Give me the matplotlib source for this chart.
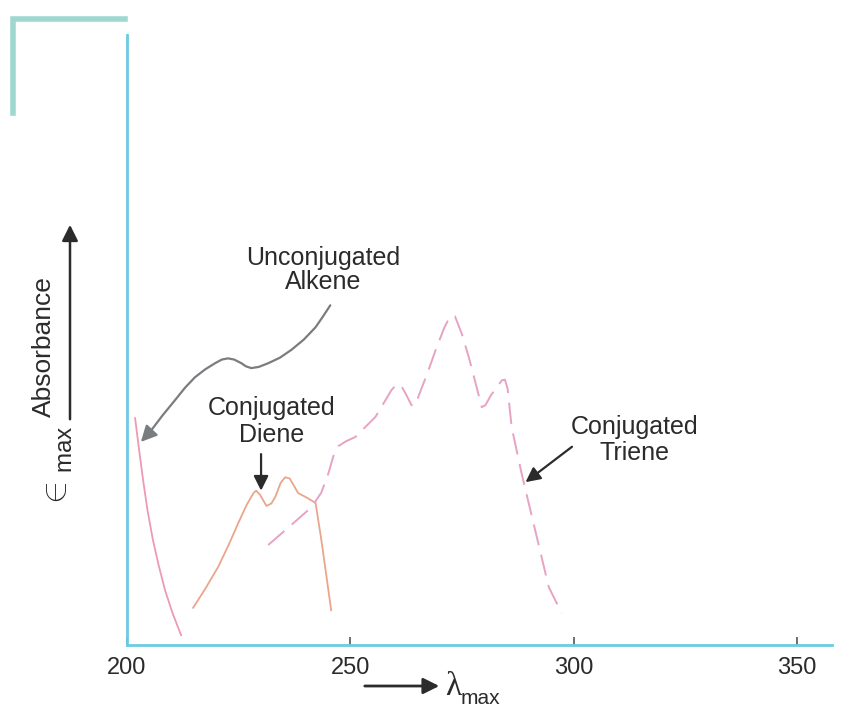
"""
UV absorption of alkene, conjugated diene and conjugated triene (schematic)
"""
import matplotlib
matplotlib.use('Agg')
import matplotlib.pyplot as plt
from matplotlib.lines import Line2D
from matplotlib.patches import FancyArrowPatch

plt.rcParams['font.family'] = ['Liberation Sans', 'DejaVu Sans']
plt.rcParams['mathtext.fontset'] = 'custom'
plt.rcParams['mathtext.rm'] = 'Liberation Sans'

# wavelength (nm) / absorbance (arb. units 0-100)
alkene_x = [201.8, 202.7, 203.6, 204.6, 205.8, 207.1, 208.5, 210.2, 212.1]
alkene_y = [37.2, 32.0, 27.0, 22.0, 17.2, 13.0, 9.0, 5.2, 1.6]

diene_x = [214.8, 217.5, 220.4, 222.8, 224.9, 226.8, 228.3, 228.9, 229.8, 231.2,
           232.3, 233.2, 234.4, 235.4, 236.4, 237.3, 238.3, 239.9, 242.2, 243.5, 245.7]
diene_y = [6.1, 9.2, 12.8, 16.5, 20.0, 23.0, 24.9, 25.3, 24.6, 22.8,
           23.2, 24.3, 26.6, 27.5, 27.3, 26.2, 24.9, 24.3, 23.3, 17.2, 5.7]

triene_x = [231.6, 236.5, 241.3, 243.5, 245.1, 246.2, 247.3, 249.0, 251.1, 255.6,
            259.2, 260.3, 261.3, 262.3, 263.7, 264.6, 265.2, 267.2, 269.1, 271.0,
            272.3, 273.4, 274.9, 276.5, 278.0, 279.4, 280.2, 281.5, 283.9, 284.6,
            285.2, 286.1, 288.3, 291.5, 294.4, 297.3]
triene_y = [16.4, 19.5, 22.6, 25.0, 28.2, 31.0, 32.6, 33.4, 34.1, 37.4,
            41.8, 42.7, 42.6, 41.3, 39.3, 39.4, 40.7, 44.5, 48.4, 52.0,
            53.9, 53.9, 51.1, 47.2, 43.0, 39.0, 39.3, 41.0, 43.4, 43.5,
            42.0, 35.7, 28.2, 18.4, 9.5, 5.2]

# pointer path for the "Unconjugated Alkene" label
ptr_x = [245.5, 243.8, 242.2, 239.6, 236.8, 234.2, 231.6, 229.5, 227.8, 226.6,
         225.6, 224.0, 222.6, 221.2, 219.7, 217.5, 215.2, 213.0, 210.8, 207.9, 205.0]
ptr_y = [55.7, 53.8, 52.1, 50.1, 48.4, 47.1, 46.2, 45.6, 45.4, 45.7,
         46.2, 46.8, 47.0, 46.8, 46.2, 45.2, 43.9, 42.2, 40.2, 37.6, 34.8]

xticks = [200, 250, 300, 350]

spine_col = '#6ccbe2'
text_col = '#2b2b2b'

fig = plt.figure(figsize=(8.66, 7.26), dpi=100)
ax = fig.add_axes([0.1467, 0.1116, 0.814, 0.840])

ax.plot(alkene_x, alkene_y, color='#ec9ab6', lw=1.3)
ax.plot(diene_x, diene_y, color='#eba58c', lw=1.3)
ax.plot(triene_x, triene_y, color='#e7a2c4', lw=1.4, dashes=[11, 5])

# curved gray pointer
ax.plot(ptr_x, ptr_y, color='#7a7d80', lw=1.6, solid_capstyle='round')
ax.annotate('', xy=(203.1, 33.3), xytext=(ptr_x[-1], ptr_y[-1]),
            arrowprops=dict(arrowstyle='-|>', color='#7a7d80', lw=1.6,
                            mutation_scale=24, shrinkA=0, shrinkB=0))
ax.annotate('', xy=(230.0, 25.3), xytext=(230.0, 31.3),
            arrowprops=dict(arrowstyle='-|>', color=text_col, lw=1.6,
                            mutation_scale=22, shrinkA=0, shrinkB=0))
ax.annotate('', xy=(289.2, 26.7), xytext=(299.6, 32.5),
            arrowprops=dict(arrowstyle='-|>', color=text_col, lw=1.6,
                            mutation_scale=22, shrinkA=0, shrinkB=0))

ax.text(243.9, 61.5, 'Unconjugated\nAlkene', ha='center', va='center',
        fontsize=18, color=text_col, linespacing=1.0)
ax.text(232.3, 36.7, 'Conjugated\nDiene', ha='center', va='center',
        fontsize=18, color=text_col, linespacing=1.15)
ax.text(313.7, 33.6, 'Conjugated\nTriene', ha='center', va='center',
        fontsize=18, color=text_col, linespacing=1.15)

ax.set_xlim(200, 357.8)
ax.set_ylim(0, 100)
ax.set_xticks(xticks)
ax.set_xticklabels([str(t) for t in xticks])
ax.set_yticks([])
ax.tick_params(axis='x', direction='in', length=6, width=1.2, color='#555555',
               labelsize=17, labelcolor=text_col, pad=9)
for s in ['top', 'right']:
    ax.spines[s].set_visible(False)
for s in ['left', 'bottom']:
    ax.spines[s].set_color(spine_col)
    ax.spines[s].set_linewidth(2.0)

# axis captions with arrows (figure pixel fractions)
W, H = 866, 726
fig.add_artist(FancyArrowPatch(
    (362 / W, 1 - 686 / H), (442 / W, 1 - 686 / H), transform=fig.transFigure,
    arrowstyle='-|>', mutation_scale=24, color=text_col, lw=2.0))
fig.text(445 / W, 1 - 687 / H, '\u03bb', fontsize=24, color=text_col,
         family='Liberation Serif', va='center', ha='left')
fig.text(461 / W, 1 - 699 / H, 'max', fontsize=15, color=text_col,
         va='center', ha='left')

fig.add_artist(FancyArrowPatch(
    (70 / W, 1 - 422 / H), (70 / W, 1 - 222 / H), transform=fig.transFigure,
    arrowstyle='-|>', mutation_scale=24, color=text_col, lw=1.8))
fig.text(44 / W, 1 - 347 / H, 'Absorbance', fontsize=19, color=text_col,
         rotation=90, va='center', ha='center')
fig.text(57 / W, 1 - 468 / H, r'$\in_{\mathrm{max}}$', fontsize=25,
         color=text_col, rotation=90, va='center', ha='center')

# page-corner mark at the top left
fig.add_artist(Line2D([13 / W, 13 / W, 125 / W],
                      [1 - 113 / H, 1 - 19 / H, 1 - 19 / H],
                      transform=fig.transFigure, color='#9fd8cf', lw=4.0,
                      solid_joinstyle='miter'))

fig.savefig('out.png', dpi=100)
